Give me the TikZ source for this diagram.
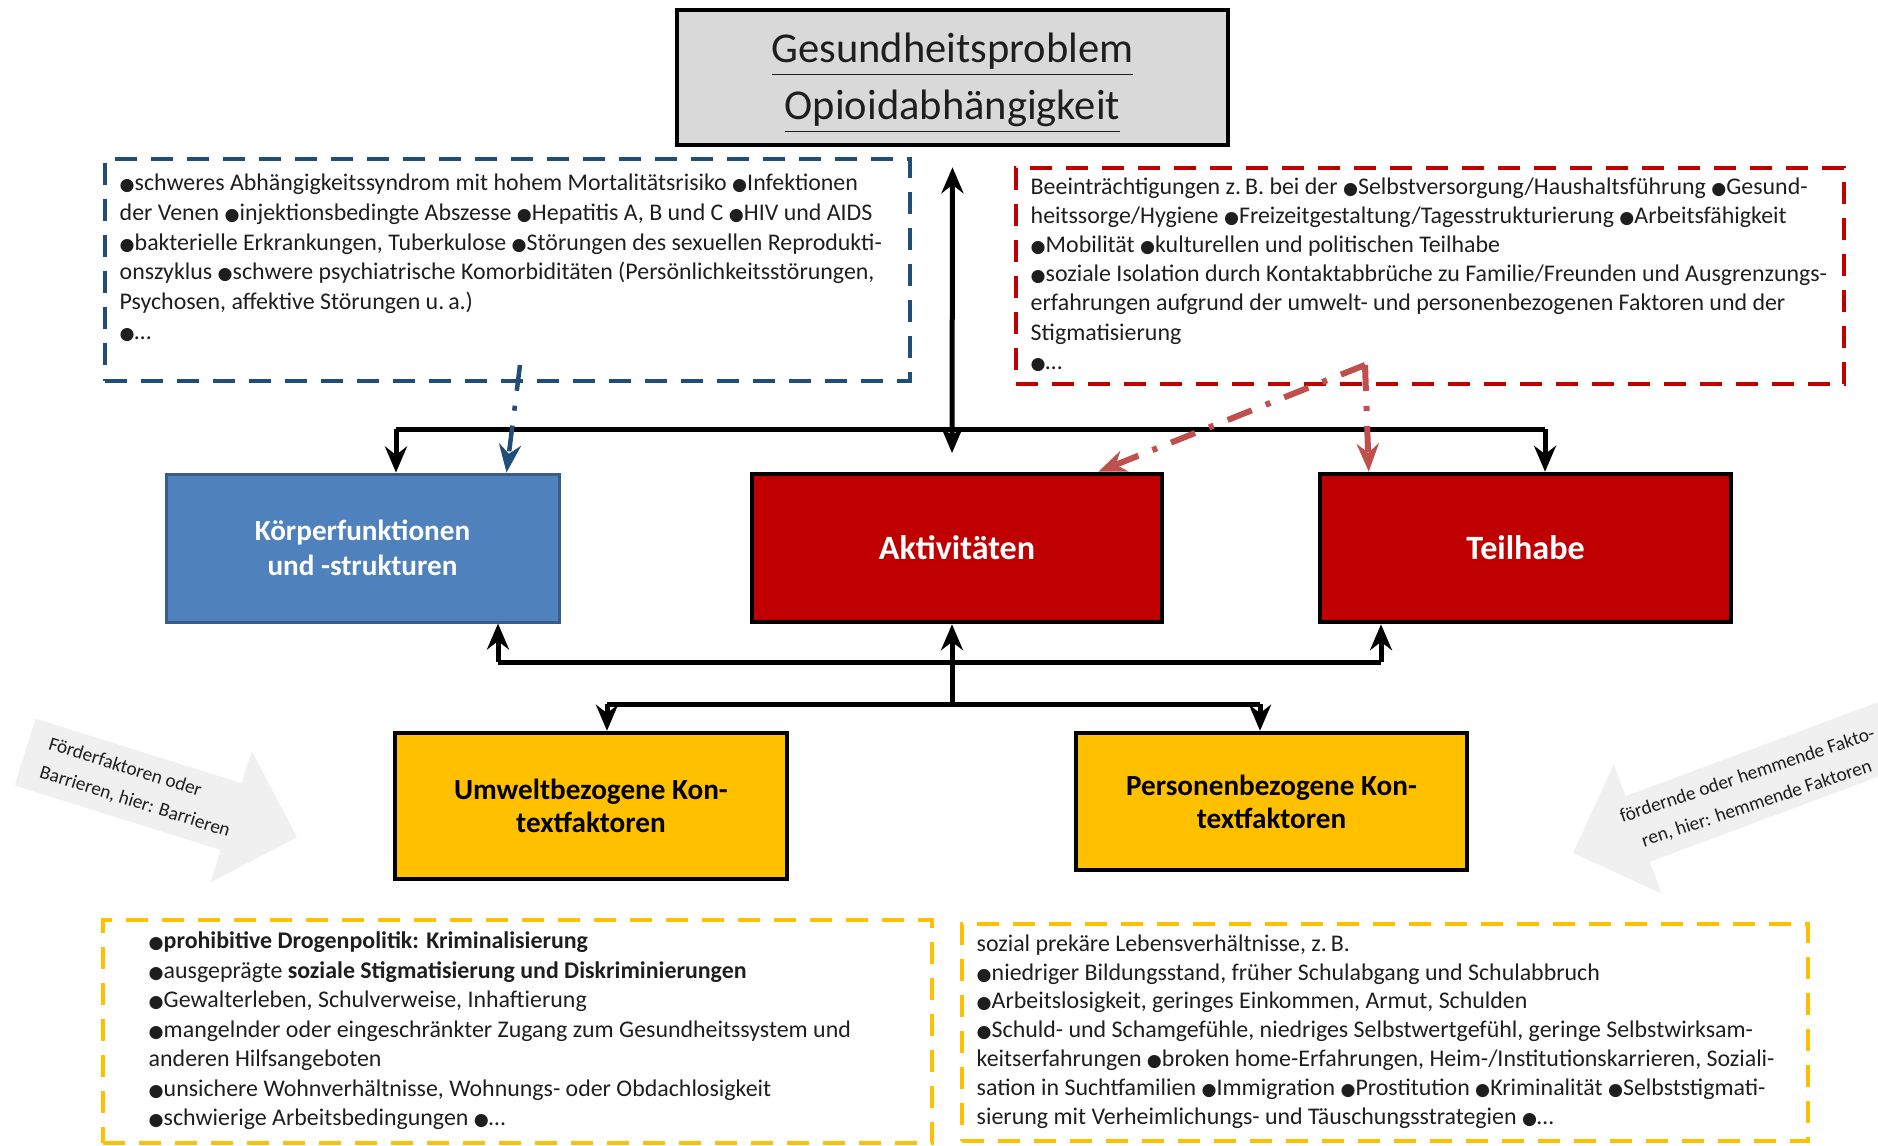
\documentclass[tikz,border=0pt]{standalone}
\usepackage{fontspec}
\usepackage{graphicx}
\setmainfont{Carlito}
\newfontfamily\symfont{DejaVu Sans}
\usetikzlibrary{arrows.meta}

\definecolor{titlegray}{HTML}{D9D9D9}
\definecolor{icfblue}{HTML}{4F81BD}
\definecolor{icfblueline}{HTML}{385D8A}
\definecolor{icfred}{HTML}{C00000}
\definecolor{ctxyellow}{HTML}{FFC000}
\definecolor{noteblue}{HTML}{1F4E79}
\definecolor{linkblue}{HTML}{1F4E79}
\definecolor{linkred}{HTML}{C0504D}
\definecolor{hintgray}{HTML}{F0F0F0}
\definecolor{textdark}{HTML}{1E1E1E}

\newcommand\bul{{\symfont\scalebox{0.72}{●}}}

\begin{document}
\begin{tikzpicture}[x=0.1mm, y=-0.1mm,
    conn/.style={line width=0.5mm},
    arr/.style={-{Stealth[length=2.6mm,width=2.2mm]}},
    twoway/.style={{Stealth[length=2.6mm,width=2.2mm]}-{Stealth[length=2.6mm,width=2.2mm]}},
    titlebox/.style={draw=black, line width=0.45mm, fill=titlegray,
      minimum width=55.1mm, minimum height=13.5mm},
    titletext/.style={align=center, text=textdark, inner sep=0pt,
      font=\fontsize{12.1}{16.2}\selectfont},
    icfbox/.style={draw=black, line width=0.45mm, text=white, align=center,
      minimum height=14.8mm, font=\fontsize{9.7}{12}\selectfont\bfseries},
    ctxbox/.style={draw=black, line width=0.45mm, fill=ctxyellow, align=center,
      text=black, font=\fontsize{8.3}{9.4}\selectfont\bfseries},
    notebox/.style={line width=0.4mm, dash pattern=on 2.2mm off 1.4mm},
    notetext/.style={anchor=north west, inner sep=0pt, align=left, text=textdark,
      font=\fontsize{6.8}{8.3}\selectfont},
    hinttext/.style={inner sep=0pt, text=textdark, transform shape,
      font=\fontsize{5.5}{8.5}\selectfont},
    link/.style={line width=0.45mm, dash pattern=on 2.6mm off 1.5mm on 0.5mm off 1.5mm,
      -{Stealth[length=2.8mm,width=2.2mm]}}
  ]
  \useasboundingbox (0,0) rectangle (1878,1145);

  % Gray hint arrows
  \begin{scope}
    \clip (0,0) rectangle (1878,1145);
    \begin{scope}[shift={(25,752)}, rotate=-17.4]
      \fill[hintgray] (0,-35) -- (216,-35) -- (216,-69) -- (285,0) -- (216,69) -- (216,35) -- (0,35) -- cycle;
      \node[hinttext, anchor=west, align=left] (hintleft) at (20,0) {Förderfaktoren oder\\Barrieren, hier: Barrieren};
    \end{scope}
    \begin{scope}[shift={(1573,853)}, rotate=20.4]
      \fill[hintgray] (0,0) -- (69,-69) -- (69,-35) -- (420,-35) -- (420,35) -- (69,35) -- (69,69) -- cycle;
      \node[hinttext, align=center, rotate=-2] (hintright) at (190,3) {fördernde oder hemmende Fakto-\\ren, hier: hemmende Faktoren};
    \end{scope}
  \end{scope}

  % Health problem
  \node[titlebox] (problem) at (952.5,77.5) {};
  \node[titletext] (problemtext) at ([yshift=-0.6mm]problem.center) {\underline{Gesundheitsproblem}\\\underline{Opioidabhängigkeit}};

  % Dashed note frames
  \node[notebox, draw=noteblue, minimum width=80.5mm, minimum height=22.2mm] (bodynote) at (507.5,270) {};
  \node[notebox, draw=icfred, minimum width=82.8mm, minimum height=21.6mm] (partnote) at (1430,276) {};
  \node[notebox, draw=ctxyellow, minimum width=82.9mm, minimum height=22.3mm] (envnote) at (517.5,1031) {};
  \node[notebox, draw=ctxyellow, minimum width=84.6mm, minimum height=21.7mm] (persnote) at (1385,1032) {};

  % Note texts
  \node[notetext, font=\fontsize{6.8}{8.5}\selectfont] (bodytext) at ([xshift=1.6mm,yshift=-1.6mm]bodynote.north west) {%
    \bul schweres Abhängigkeitssyndrom mit hohem Mortalitätsrisiko \bul Infektionen\\
    der Venen \bul injektionsbedingte Abszesse \bul Hepatitis A, B und C \bul HIV und AIDS\\
    \bul bakterielle Erkrankungen, Tuberkulose \bul Störungen des sexuellen Reprodukti-\\
    onszyklus \bul schwere psychiatrische Komorbiditäten (Persönlichkeitsstörungen,\\
    Psychosen, affektive Störungen u.\,a.)\\
    \bul…};
  \node[notetext] (parttext) at ([xshift=1.6mm,yshift=-1.1mm]partnote.north west) {%
    Beeinträchtigungen z.\,B. bei der \bul Selbstversorgung/Haushaltsführung \bul Gesund-\\
    heitssorge/Hygiene \bul Freizeitgestaltung/Tagesstrukturierung \bul Arbeitsfähigkeit\\
    \bul Mobilität \bul kulturellen und politischen Teilhabe\\
    \bul soziale Isolation durch Kontaktabbrüche zu Familie/Freunden und Ausgrenzungs-\\
    erfahrungen aufgrund der umwelt- und personenbezogenen Faktoren und der\\
    Stigmatisierung\\
    \bul…};
  \node[notetext, font=\fontsize{6.8}{8.4}\selectfont] (envtext) at ([xshift=4.7mm,yshift=-1.35mm]envnote.north west) {%
    \bul\textbf{prohibitive Drogenpolitik: Kriminalisierung}\\
    \bul ausgeprägte \textbf{soziale Stigmatisierung und Diskriminierungen}\\
    \bul Gewalterleben, Schulverweise, Inhaftierung\\
    \bul mangelnder oder eingeschränkter Zugang zum Gesundheitssystem und\\
    anderen Hilfsangeboten\\
    \bul unsichere Wohnverhältnisse, Wohnungs- oder Obdachlosigkeit\\
    \bul schwierige Arbeitsbedingungen \bul…};
  \node[notetext, font=\fontsize{6.8}{8.2}\selectfont] (perstext) at ([xshift=1.6mm,yshift=-1.25mm]persnote.north west) {%
    sozial prekäre Lebensverhältnisse, z.\,B.\\
    \bul niedriger Bildungsstand, früher Schulabgang und Schulabbruch\\
    \bul Arbeitslosigkeit, geringes Einkommen, Armut, Schulden\\
    \bul Schuld- und Schamgefühle, niedriges Selbstwertgefühl, geringe Selbstwirksam-\\
    keitserfahrungen \bul broken home-Erfahrungen, Heim-/Institutionskarrieren, Soziali-\\
    sation in Suchtfamilien \bul Immigration \bul Prostitution \bul Kriminalität \bul Selbststigmati-\\
    sierung mit Verheimlichungs- und Täuschungsstrategien \bul…};

  % ICF components
  \node[icfbox, fill=icfblue, draw=icfblueline, line width=0.3mm, minimum width=39.3mm,
    font=\fontsize{8.3}{10}\selectfont\bfseries] (koerper) at (362.5,548) {Körperfunktionen\\und -strukturen};
  \node[icfbox, fill=icfred, minimum width=41mm] (aktiv) at (957,548) {Aktivitäten};
  \node[icfbox, fill=icfred, minimum width=41.1mm] (teilhabe) at (1525.5,548) {Teilhabe};

  % Context factors
  \node[ctxbox, minimum width=39.2mm, minimum height=14.6mm] (umwelt) at (591,806) {Umweltbezogene Kon-\\textfaktoren};
  \node[ctxbox, minimum width=39.1mm, minimum height=13.7mm] (personen) at (1271.5,801.5) {Personenbezogene Kon-\\textfaktoren};

  % Upper connectors
  \coordinate (hubtop) at (952,453);
  \coordinate (barL) at (396,429);
  \coordinate (barR) at (1545,429);
  \draw[conn, twoway] ([yshift=-2mm]problem.south) -- (hubtop);
  \draw[conn] (barL) -- (barR);
  \draw[conn, arr] (barL) -- (barL |- koerper.north);
  \draw[conn, arr] (barR) -- (barR |- teilhabe.north);

  % Lower connectors
  \coordinate (ctxhub) at (952,704);
  \coordinate (upL) at (498,662);
  \coordinate (upR) at (1381,662);
  \coordinate (lowL) at (607,704);
  \coordinate (lowR) at (1260,704);
  \draw[conn] (upL) -- (upR);
  \draw[conn, arr] (upL) -- (upL |- koerper.south);
  \draw[conn, arr] (upR) -- (upR |- teilhabe.south);
  \draw[conn, arr] (ctxhub) -- (ctxhub |- aktiv.south);
  \draw[conn] (lowL) -- (lowR);
  \draw[conn, arr] (lowL) -- (lowL |- umwelt.north);
  \draw[conn, arr] (lowR) -- (lowR |- personen.north);

  % Dash-dotted links from the notes
  \coordinate (bodysrc) at (520,365);
  \coordinate (partsrc) at (1365,365);
  \draw[link, draw=linkblue] (bodysrc) -- ([xshift=34.2mm]koerper.north west);
  \draw[link, draw=linkred, line width=0.6mm] (partsrc) -- ([xshift=-6.6mm]aktiv.north east);
  \draw[link, draw=linkred, line width=0.6mm] (partsrc) -- ([xshift=5.1mm]teilhabe.north west);
\end{tikzpicture}
\end{document}
